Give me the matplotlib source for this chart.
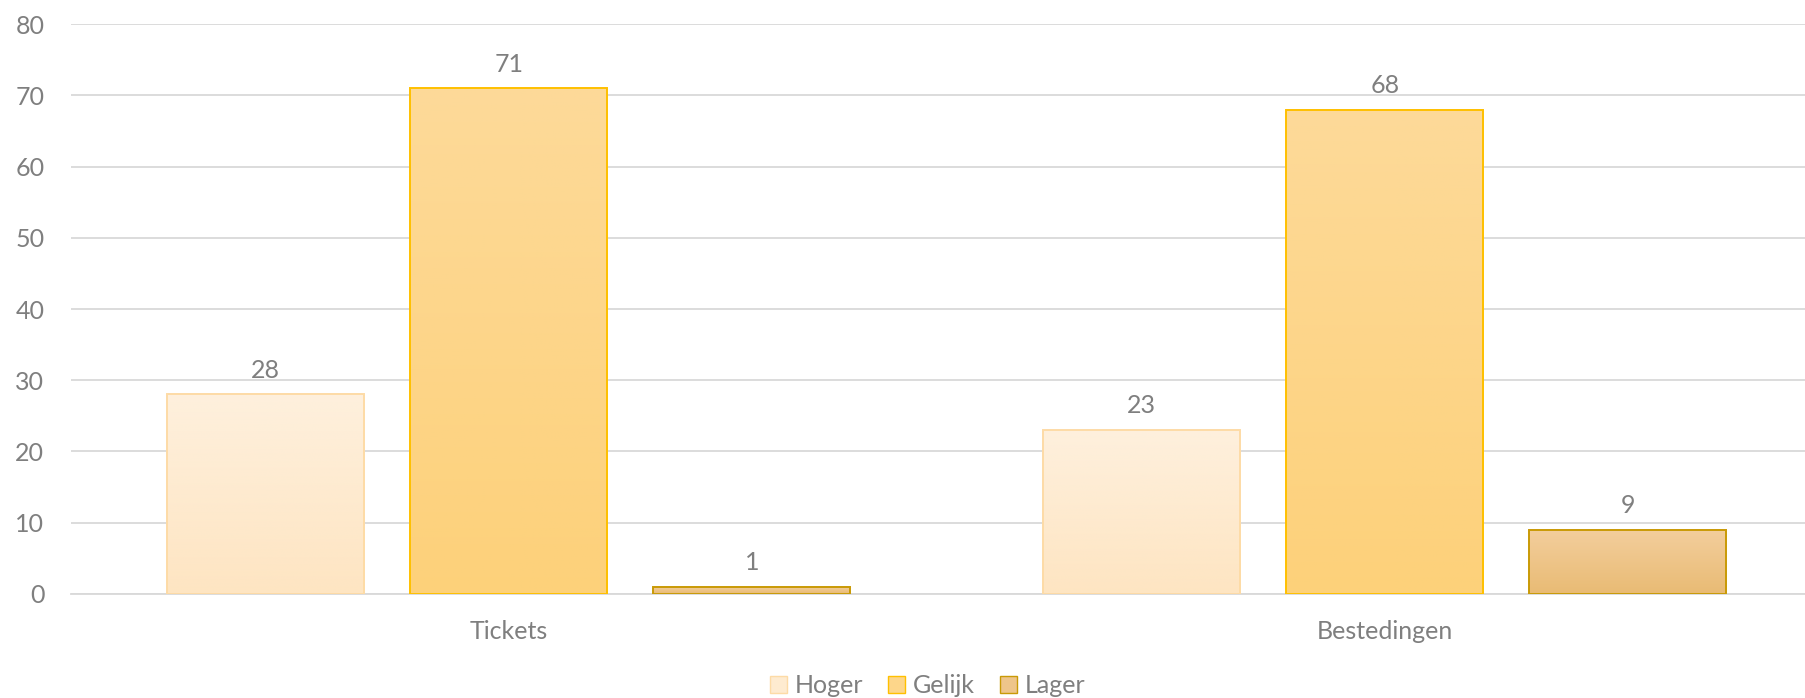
import matplotlib
matplotlib.use("Agg")
import matplotlib.pyplot as plt
import numpy as np
from matplotlib.colors import LinearSegmentedColormap
from matplotlib.patches import Patch

categories = ["Tickets", "Bestedingen"]
series = ["Hoger", "Gelijk", "Lager"]
hoger = [28, 23]
gelijk = [71, 68]
lager = [1, 9]
values = [hoger, gelijk, lager]
yticks = [0, 10, 20, 30, 40, 50, 60, 70, 80]

top_colors = ["#FEF0DD", "#FDDA99", "#F3CE9D"]
bot_colors = ["#FEE5C2", "#FDD17A", "#E9BB74"]
edge_colors = ["#FDDBA6", "#FFC000", "#C99A06"]
legend_colors = ["#FEEBD0", "#FDD68A", "#EEC58A"]

plt.rcParams['font.family'] = ['Lato', 'DejaVu Sans']
text_color = "#7F7F7F"
fs = 18

fig = plt.figure(figsize=(18.05, 6.98), dpi=100)
ax = fig.add_axes([0.0392, 0.1494, 0.9706, 0.8158])

x = np.arange(len(categories))
width = 0.2249
offset = 0.2774

for i, (s, vals) in enumerate(zip(series, values)):
    pos = x + (i - 1) * offset
    bars = ax.bar(pos, vals, width, facecolor="none", edgecolor=edge_colors[i],
                  linewidth=1.4, zorder=3, label=s)
    cmap = LinearSegmentedColormap.from_list(f"g{i}", [bot_colors[i], top_colors[i]])
    grad = np.linspace(0, 1, 256).reshape(-1, 1)
    for b, v in zip(bars, vals):
        x0 = b.get_x()
        w = b.get_width()
        ax.imshow(grad, cmap=cmap, origin="lower", aspect="auto",
                  extent=(x0, x0 + w, 0, v), zorder=2)
        ax.annotate(str(v), (x0 + w / 2, v), xytext=(0, 12), textcoords="offset points",
                    ha="center", va="baseline", fontsize=fs, color=text_color)

ax.set_xlim(-0.5, 1.5)
ax.set_ylim(0, 80)
ax.set_yticks(yticks)
ax.set_xticks(x)
ax.set_xticklabels(categories)
ax.tick_params(axis="both", length=0, labelsize=fs, labelcolor=text_color)
ax.tick_params(axis="y", pad=19)
ax.tick_params(axis="x", pad=19)
ax.grid(axis="y", color="#D9D9D9", linewidth=1.3, zorder=0)
ax.set_axisbelow(True)
for sp in ["top", "right", "left"]:
    ax.spines[sp].set_visible(False)
ax.spines["bottom"].set_color("#D9D9D9")
ax.spines["bottom"].set_linewidth(1.3)

handles = [Patch(facecolor=legend_colors[i], edgecolor=edge_colors[i], label=series[i])
           for i in range(3)]
fig.legend(handles=handles, loc="center", bbox_to_anchor=(0.514, 0.018), ncol=3,
           frameon=False, fontsize=fs, labelcolor=text_color, handlelength=0.66,
           handleheight=0.66, handletextpad=0.33, columnspacing=1.0,
           borderpad=0, borderaxespad=0)

fig.savefig("out.png", dpi=100)
